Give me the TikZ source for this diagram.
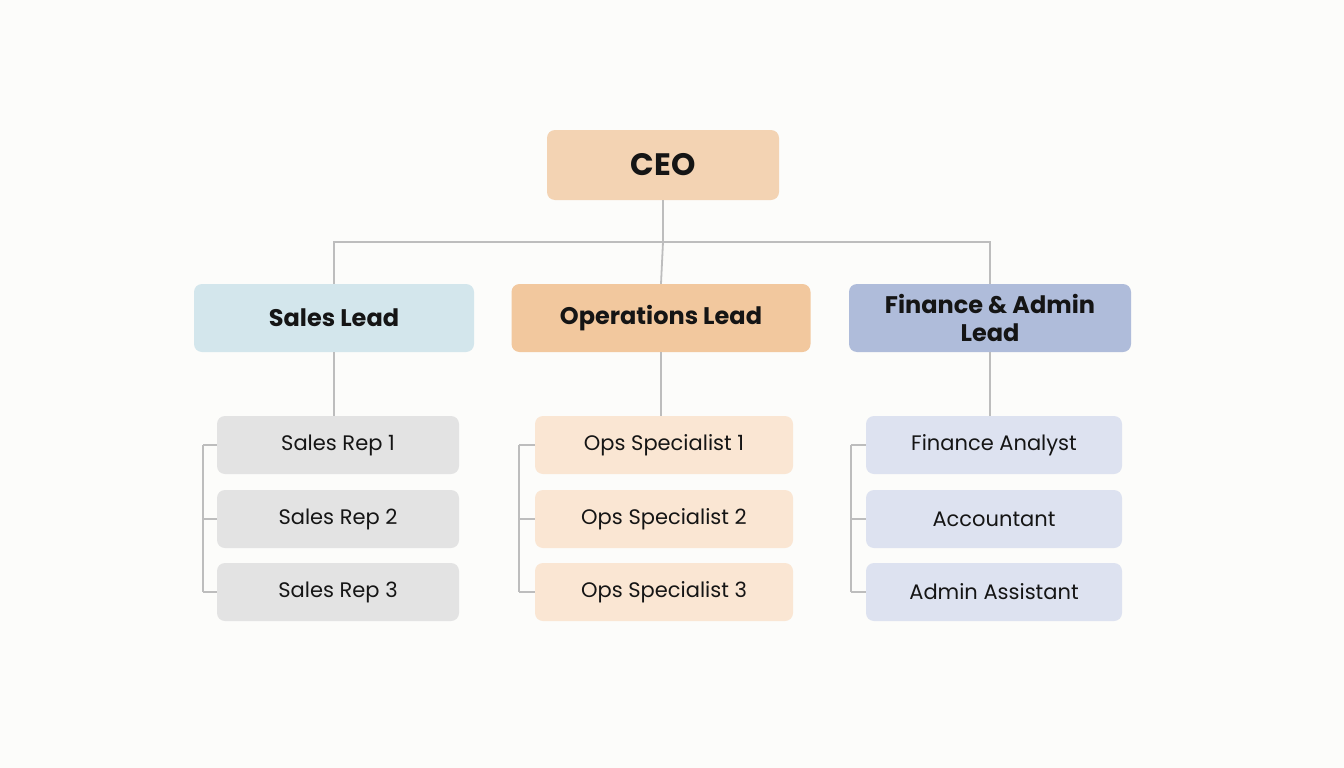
\documentclass[tikz,border=0pt]{standalone}
\usepackage{fontspec}
\setmainfont{Poppins}
\definecolor{bg}{HTML}{FCFCFA}
\definecolor{ln}{HTML}{BDBDBD}
\definecolor{ceo}{HTML}{F3D3B3}
\definecolor{sl}{HTML}{D3E6EC}
\definecolor{ol}{HTML}{F2C89E}
\definecolor{fl}{HTML}{AFBCDA}
\definecolor{sc}{HTML}{E3E3E3}
\definecolor{oc}{HTML}{FAE6D3}
\definecolor{fc}{HTML}{DDE2F0}
\definecolor{tx}{HTML}{151515}
\tikzset{
 box/.style={rounded corners=8pt,draw=none,text=tx,align=center,inner sep=0pt},
 lead/.style={box,minimum height=68pt,font=\fontsize{24}{28}\selectfont\bfseries},
 child/.style={box,minimum height=58pt,font=\fontsize{21}{25}\selectfont},
 conn/.style={draw=ln,line width=1.8pt}
}
\begin{document}
\begin{tikzpicture}[x=1pt,y=-1pt]
\fill[bg] (0,0) rectangle (1344,768);
\useasboundingbox (0,0) rectangle (1344,768);
\node[box,fill=ceo,minimum width=232pt,minimum height=70pt,font=\fontsize{31}{36}\selectfont\bfseries] (ceo) at (663,165) {CEO};
\node[lead,fill=sl,minimum width=280pt] (sl) at (334,318) {Sales Lead};
\node[lead,fill=ol,minimum width=299pt] (ol) at (661,318) {Operations Lead};
\node[lead,fill=fl,minimum width=282pt] (fl) at (990,318) {Finance \& Admin\\Lead};
\foreach \n/\x/\w/\c/\a/\b/\d in {s/338/242/sc/Sales Rep 1/Sales Rep 2/Sales Rep 3, o/664/258/oc/Ops Specialist 1/Ops Specialist 2/Ops Specialist 3, f/994/256/fc/Finance Analyst/Accountant/Admin Assistant}{
 \node[child,fill=\c,minimum width=\w pt] (\n1) at (\x,445) {\a};
 \node[child,fill=\c,minimum width=\w pt] (\n2) at (\x,519) {\b};
 \node[child,fill=\c,minimum width=\w pt] (\n3) at (\x,592) {\d};
}
\coordinate (bus) at (663,242);
\draw[conn] (ceo.south) -- (bus);
\draw[conn] (sl.north) |- (bus) -| (fl.north);
\draw[conn] (bus) -- (ol.north);
\draw[conn] (sl.south) -- (sl.south |- s1.north);
\draw[conn] (ol.south) -- (ol.south |- o1.north);
\draw[conn] (fl.south) -- (fl.south |- f1.north);
\foreach \n/\bx in {s/203,o/519,f/851}{
 \draw[conn] (s1.west -| \bx,0) -- (\n1.west);
 \draw[conn] (\bx,445) -- (\bx,592);
 \draw[conn] (\bx,445) -- (\n1.west);
 \draw[conn] (\bx,519) -- (\n2.west);
 \draw[conn] (\bx,592) -- (\n3.west);
}
\end{tikzpicture}
\end{document}
